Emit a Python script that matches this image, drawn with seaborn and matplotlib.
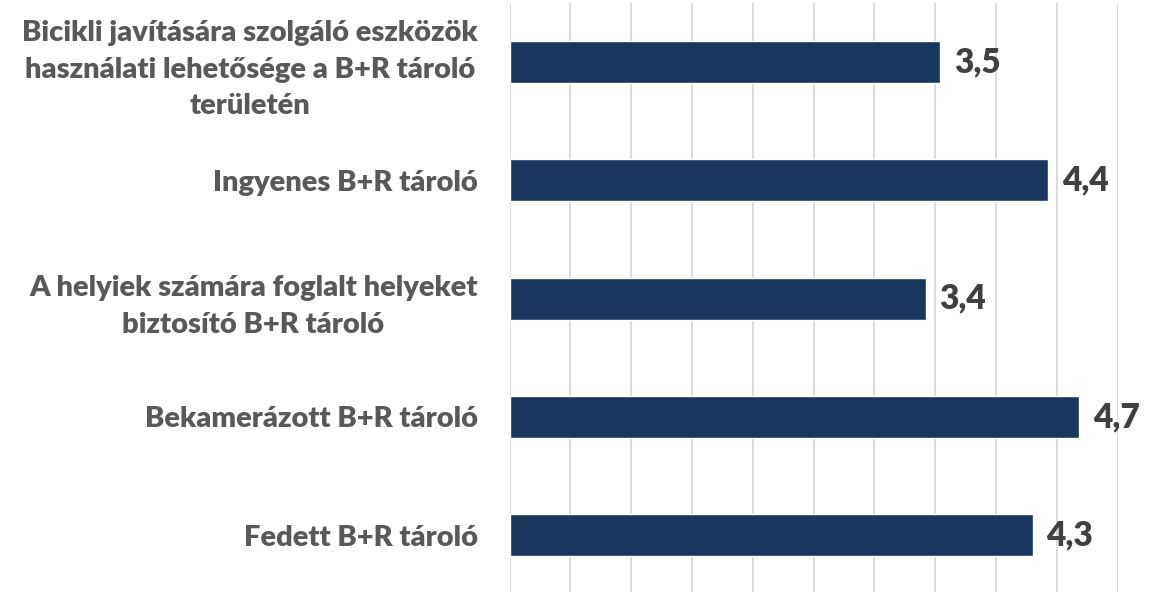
import pandas as pd
import matplotlib.pyplot as plt
import seaborn as sns

# --------------------------------
# DATA
# --------------------------------

categories = [
    "Bicikli javítására szolgáló eszközök\nhasználati lehetősége a B+R tároló\nterületén",
    "Ingyenes B+R tároló",
    "A helyiek számára foglalt helyeket\nbiztosító B+R tároló",
    "Bekamerázott B+R tároló",
    "Fedett B+R tároló",
]

scores = [3.54, 4.43, 3.42, 4.68, 4.30]

df = pd.DataFrame({"Category": categories, "Score": scores})

# --------------------------------
# PLOT
# --------------------------------

sns.set_style("white")
plt.rcParams["font.family"] = ["Lato", "DejaVu Sans"]

fig = plt.figure(figsize=(11.61, 5.92), dpi=100)
ax = fig.add_axes([509.5 / 1161, -2.5 / 592, 608.2 / 1161, 591.7 / 592])

sns.barplot(
    data=df,
    x="Score",
    y="Category",
    color="#17375E",
    width=0.355,
    saturation=1,
    ax=ax,
)

ax.set_xlim(0, 5)
ax.set_ylim(4.5, -0.5)
ax.set_xticks([i * 0.5 for i in range(11)])
ax.set_xticklabels([])
ax.xaxis.grid(True, color="#D9D9D9", linewidth=1.3)
ax.set_axisbelow(True)
ax.tick_params(axis="both", length=0)

for side in ["top", "right", "bottom", "left"]:
    ax.spines[side].set_visible(False)

ax.set_xlabel("")
ax.set_ylabel("")

for lbl in ax.get_yticklabels():
    lbl.set_fontweight("heavy")
    lbl.set_fontsize(21)
    lbl.set_color("#595959")
    lbl.set_multialignment("center")
    lbl.set_linespacing(1.5)
ax.tick_params(axis="y", pad=23)

for container in ax.containers:
    ax.bar_label(
        container,
        labels=[f"{v:.1f}".replace(".", ",") for v in scores],
        padding=10,
        fontsize=24,
        fontweight="heavy",
        color="#404040",
    )

plt.savefig("out.png", dpi=100)
